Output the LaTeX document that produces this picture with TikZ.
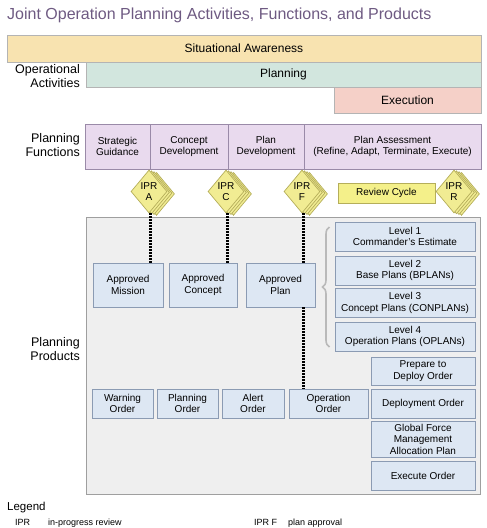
\documentclass[tikz,border=0pt]{standalone}
\usepackage{fontspec}
\setmainfont{Liberation Sans}
\usetikzlibrary{shapes.geometric,decorations.pathreplacing}
\definecolor{titlecol}{HTML}{6E5A82}
\definecolor{safill}{HTML}{F8E3B0}
\definecolor{planfill}{HTML}{D2E6DE}
\definecolor{execfill}{HTML}{F5D0C8}
\definecolor{funcfill}{HTML}{E9DAEE}
\definecolor{funcline}{HTML}{9A8AA8}
\definecolor{barline}{HTML}{B4B4B4}
\definecolor{prodbg}{HTML}{EFEFEF}
\definecolor{prodfill}{HTML}{DDE7F3}
\definecolor{prodline}{HTML}{8B9BB3}
\definecolor{iprfill}{HTML}{F1EC93}
\definecolor{iprline}{HTML}{B5AE5A}
\definecolor{rcfill}{HTML}{F4F08A}
\newcommand\boxfont{\fontsize{10}{11.5}\selectfont}
\newcommand\labfont{\fontsize{12.5}{13.5}\selectfont}
\tikzset{
  bar/.style={draw=barline, line width=0.8pt, inner sep=0pt, font=\fontsize{12}{13}\selectfont},
  func/.style={draw=funcline, fill=funcfill, line width=0.8pt, inner sep=0pt, align=center, font=\boxfont, minimum height=45pt},
  prod/.style={draw=prodline, fill=prodfill, line width=0.8pt, inner sep=0pt, align=center, font=\boxfont},
  iprshape/.style={diamond, draw=iprline, fill=iprfill, line width=0.7pt, minimum width=36pt, minimum height=43pt, inner sep=0pt},
  ipr/.style={iprshape, align=center, font=\fontsize{10}{11.5}\selectfont},
  link/.style={black, line width=3pt, dash pattern=on 2pt off 1pt},
  sidelab/.style={anchor=east, align=right, font=\labfont, inner sep=0pt},
  legtext/.style={anchor=base west, inner sep=0pt, font=\fontsize{9}{10}\selectfont},
}
\newcommand\iprdiamond[4]{%
  \node[iprshape] (#1c) at (#2+7.5,#3+2.4) {};
  \node[iprshape] (#1b) at (#2+5,#3+1.6) {};
  \node[iprshape] (#1a) at (#2+2.5,#3+0.8) {};
  \node[ipr] (#1) at (#2,#3) {IPR\\#4};
}
\begin{document}
\begin{tikzpicture}[x=1pt,y=-1pt]
\useasboundingbox (0,0) rectangle (487,528);
% title
\node[anchor=base west, inner sep=0pt, text=titlecol, font=\fontsize{16}{18}\selectfont] (title) at (7,19.5) {Joint Operation Planning Activities, Functions, and Products};
% operational activities
\node[bar, fill=safill, minimum width=474pt, minimum height=27pt] (sa) at (244,48.5) {Situational Awareness};
\node[bar, fill=planfill, minimum width=395pt, minimum height=25pt] (plan) at (283.5,74.5) {Planning};
\node[bar, fill=execfill, minimum width=147pt, minimum height=26pt] (exec) at (407.5,100) {Execution};
\node[sidelab] (oplab) at (80,76) {Operational\\Activities};
% planning functions
\node[func, minimum width=65pt] (sg) at (117.5,146.5) {Strategic\\Guidance};
\node[func, minimum width=78pt] (cd) at (189,146.5) {Concept\\Development};
\node[func, minimum width=76pt] (pd) at (266,146.5) {Plan\\Development};
\node[func, minimum width=177pt] (pa) at (392.5,146.5) {Plan Assessment\\(Refine, Adapt, Terminate, Execute)};
\node[sidelab] (funclab) at (80,145) {Planning\\Functions};
% products background
\node[draw=gray!75, fill=prodbg, line width=0.8pt, minimum width=394pt, minimum height=277pt, inner sep=0pt] (products) at (283,355.5) {};
\node[sidelab] (prodlab) at (80,349) {Planning\\Products};
% IPR diamonds
\iprdiamond{ipra}{149}{191.5}{A}
\iprdiamond{iprc}{226}{191.5}{C}
\iprdiamond{iprf}{302}{191.5}{F}
\node[draw=iprline, fill=rcfill, line width=0.8pt, minimum width=97pt, minimum height=20pt, inner sep=0pt, font=\boxfont] (review) at (386.5,193) {Review Cycle};
\iprdiamond{iprr}{454}{191.5}{R}
% approved products
\node[prod, minimum width=70pt, minimum height=44pt] (mission) at (128,285) {Approved\\Mission};
\node[prod, minimum width=68pt, minimum height=44pt] (concept) at (203,285) {Approved\\Concept};
\node[prod, minimum width=69pt, minimum height=44pt] (aplan) at (280.5,285) {Approved\\Plan};
% levels
\node[prod, minimum width=140pt, minimum height=29pt] (lev1) at (405,236.5) {Level 1\\Commander's Estimate};
\node[prod, minimum width=140pt, minimum height=29pt] (lev2) at (405,270.5) {Level 2\\Base Plans (BPLANs)};
\node[prod, minimum width=140pt, minimum height=29pt] (lev3) at (405,303) {Level 3\\Concept Plans (CONPLANs)};
\node[prod, minimum width=140pt, minimum height=29pt] (lev4) at (405,336.5) {Level 4\\Operation Plans (OPLANs)};
\draw[gray!55, line width=1.6pt, decorate, decoration={brace, amplitude=7pt}] (329.5,347) -- (329.5,227);
% right column orders
\node[prod, minimum width=104pt, minimum height=28pt] (ptdo) at (423,371) {Prepare to\\Deploy Order};
\node[prod, minimum width=104pt, minimum height=29pt] (depo) at (423,403.5) {Deployment Order};
\node[prod, minimum width=104pt, minimum height=36pt] (gfm) at (423,439) {Global Force\\Management\\Allocation Plan};
\node[prod, minimum width=104pt, minimum height=29pt] (exo) at (423,475.5) {Execute Order};
% bottom orders
\node[prod, minimum width=61pt, minimum height=29pt] (warno) at (122.5,403.5) {Warning\\Order};
\node[prod, minimum width=61pt, minimum height=29pt] (plano) at (187.5,403.5) {Planning\\Order};
\node[prod, minimum width=62pt, minimum height=29pt] (alerto) at (253,403.5) {Alert\\Order};
\node[prod, minimum width=79pt, minimum height=29pt] (opord) at (328.5,403.5) {Operation\\Order};
% links
\coordinate (la) at ([xshift=1.5pt]ipra.south);
\coordinate (lc) at ([xshift=1pt]iprc.south);
\coordinate (lf) at ([xshift=1.5pt]iprf.south);
\draw[link] (la) -- (la |- mission.north);
\draw[link] (lc) -- (lc |- concept.north);
\draw[link] (lf) -- (lf |- aplan.north);
\draw[link] (lf |- aplan.south) -- (lf |- opord.north);
% legend
\node[anchor=base west, inner sep=0pt, font=\fontsize{11.5}{13}\selectfont] (legend) at (7,510.5) {Legend};
\node[legtext] (lg1a) at (15,525.5) {IPR};
\node[legtext] (lg1b) at (48,525.5) {in-progress review};
\node[legtext] (lg2a) at (254,525.5) {IPR F};
\node[legtext] (lg2b) at (288,525.5) {plan approval};
\end{tikzpicture}
\end{document}
